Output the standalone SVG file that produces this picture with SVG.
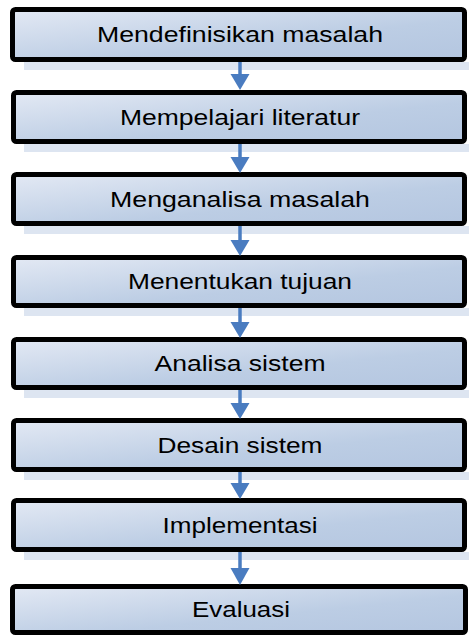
<svg xmlns="http://www.w3.org/2000/svg" width="469" height="636" viewBox="0 0 469 636">
<defs>
<linearGradient id="g" x1="0" y1="0" x2="1" y2="1" gradientUnits="objectBoundingBox">
<stop offset="0" stop-color="#e3e9f4"/>
<stop offset="0.6" stop-color="#bccde4"/>
<stop offset="1" stop-color="#b4c6e0"/>
</linearGradient>
</defs>
<style>
.box{fill:url(#g);stroke:#000;stroke-width:5}
.sh{fill:#dde5f1}
.t{font-family:"Liberation Sans",Arial,sans-serif;font-size:22px;fill:#000;text-anchor:middle}
.ln{stroke:#4a7cc0;stroke-width:3.5}
.hd{fill:#4a7cc0}
</style>
<g id="shadows">
<rect class="sh" x="24" y="62" width="445" height="8"/>
<rect class="sh" x="24" y="144" width="445" height="8"/>
<rect class="sh" x="24" y="226" width="445" height="8"/>
<rect class="sh" x="24" y="308" width="445" height="8"/>
<rect class="sh" x="24" y="390" width="445" height="8"/>
<rect class="sh" x="24" y="472" width="445" height="8"/>
<rect class="sh" x="24" y="552" width="445" height="8"/>
</g>
<g id="n1"><rect class="box" x="12.5" y="9.5" width="452" height="50" rx="3"/><text class="t" x="240" y="42" textLength="286" lengthAdjust="spacingAndGlyphs">Mendefinisikan masalah</text></g>
<g id="n2"><rect class="box" x="13.5" y="92.5" width="451" height="49" rx="3"/><text class="t" x="240" y="124.5" textLength="240" lengthAdjust="spacingAndGlyphs">Mempelajari literatur</text></g>
<g id="n3"><rect class="box" x="13.5" y="174.5" width="451" height="49" rx="3"/><text class="t" x="240" y="206.5" textLength="260" lengthAdjust="spacingAndGlyphs">Menganalisa masalah</text></g>
<g id="n4"><rect class="box" x="13.5" y="257.5" width="451" height="48" rx="3"/><text class="t" x="240" y="289" textLength="224" lengthAdjust="spacingAndGlyphs">Menentukan tujuan</text></g>
<g id="n5"><rect class="box" x="13.5" y="339.5" width="451" height="48" rx="3"/><text class="t" x="240" y="371" textLength="171" lengthAdjust="spacingAndGlyphs">Analisa sistem</text></g>
<g id="n6"><rect class="box" x="13.5" y="420.5" width="451" height="49" rx="3"/><text class="t" x="240" y="452.5" textLength="165" lengthAdjust="spacingAndGlyphs">Desain sistem</text></g>
<g id="n7"><rect class="box" x="13.5" y="500.5" width="451" height="49" rx="3"/><text class="t" x="240" y="532.5" textLength="155" lengthAdjust="spacingAndGlyphs">Implementasi</text></g>
<g id="n8"><rect class="box" x="12.5" y="586.5" width="453" height="46" rx="3"/><text class="t" x="241" y="617" textLength="98" lengthAdjust="spacingAndGlyphs">Evaluasi</text></g>
<g id="connectors">
<line class="ln" x1="240" y1="62" x2="240" y2="75"/><polygon class="hd" points="230.5,74 249.5,74 240,90"/>
<line class="ln" x1="240" y1="144" x2="240" y2="158"/><polygon class="hd" points="230.5,157 249.5,157 240,173"/>
<line class="ln" x1="240" y1="226" x2="240" y2="241"/><polygon class="hd" points="230.5,240 249.5,240 240,256"/>
<line class="ln" x1="240" y1="308" x2="240" y2="323"/><polygon class="hd" points="230.5,322 249.5,322 240,338"/>
<line class="ln" x1="240" y1="390" x2="240" y2="404"/><polygon class="hd" points="230.5,403 249.5,403 240,419"/>
<line class="ln" x1="240" y1="472" x2="240" y2="484"/><polygon class="hd" points="230.5,483 249.5,483 240,499"/>
<line class="ln" x1="240" y1="552" x2="240" y2="569"/><polygon class="hd" points="230.5,568 249.5,568 240,585"/>
</g>
</svg>
